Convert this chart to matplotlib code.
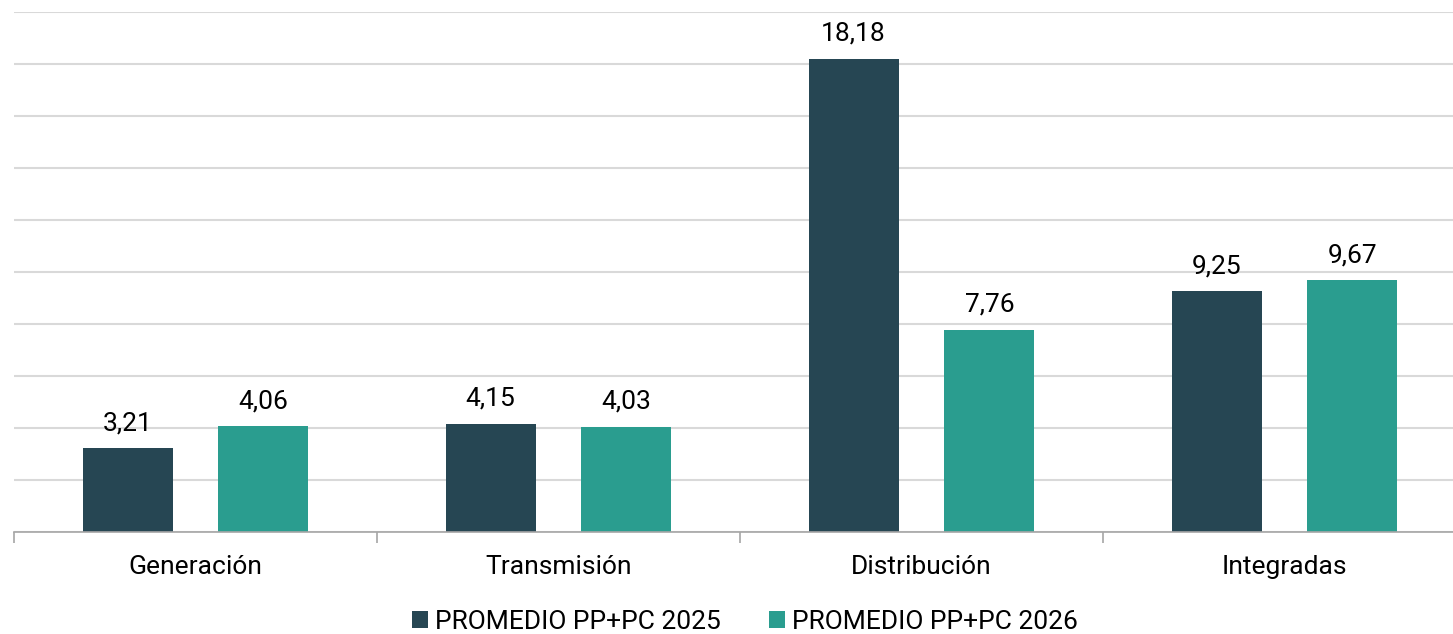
import matplotlib
matplotlib.use("Agg")
import matplotlib.pyplot as plt
import numpy as np
from matplotlib.patches import Patch

categories = ["Generación", "Transmisión", "Distribución", "Integradas"]
series_names = ["PROMEDIO PP+PC 2025", "PROMEDIO PP+PC 2026"]
values_2025 = [3.21, 4.15, 18.18, 9.25]
values_2026 = [4.06, 4.03, 7.76, 9.67]
colors = ["#264653", "#2a9d8f"]

plt.rcParams['font.family'] = ['Roboto', 'DejaVu Sans']

W, H = 1453, 634
fig = plt.figure(figsize=(W / 100, H / 100), dpi=100)
left, right = 14 / W, 1466 / W
bottom, top = (H - 532) / H, (H - 11.5) / H
ax = fig.add_axes([left, bottom, right - left, top - bottom])

FS = 19
x = np.arange(len(categories))
bw = 0.248
off = 0.187
for vals, dx, c in [(values_2025, -off, colors[0]), (values_2026, off, colors[1])]:
    bars = ax.bar(x + dx, vals, width=bw, color=c, zorder=3)
    for b, v in zip(bars, vals):
        ax.annotate(f"{v:.2f}".replace(".", ","), (b.get_x() + b.get_width() / 2, v),
                    xytext=(0, 9.5), textcoords="offset points", ha="center", va="bottom",
                    fontsize=FS, color="#000000")

ax.set_xlim(-0.5, len(categories) - 0.5)
ax.set_ylim(0, 20)
ax.set_yticks(np.arange(0, 21, 2))
ax.yaxis.grid(True, color="#d9d9d9", linewidth=1.5, zorder=0)
ax.tick_params(axis="y", length=0, labelleft=False)
for s in ["top", "right", "left"]:
    ax.spines[s].set_visible(False)
ax.spines["bottom"].set_color("#a6a6a6")
ax.spines["bottom"].set_linewidth(1.2)
ax.spines["bottom"].set_zorder(4)

ax.set_xticks(x)
ax.set_xticklabels(categories, fontsize=FS)
ax.tick_params(axis="x", which="major", length=0, pad=16.5)
ax.set_xticks(np.arange(-0.5, len(categories), 1.0), minor=True)
ax.tick_params(axis="x", which="minor", length=8, color="#a6a6a6", width=1.2)

handles = [Patch(facecolor=colors[0]), Patch(facecolor=colors[1])]
fig.legend(handles, series_names, loc="center", bbox_to_anchor=(745 / W, 1 - 622 / H),
           ncol=2, frameon=False, fontsize=FS, handlelength=0.6, handleheight=0.6,
           handletextpad=0.3, columnspacing=1.8)

fig.savefig("out.png", dpi=100)
